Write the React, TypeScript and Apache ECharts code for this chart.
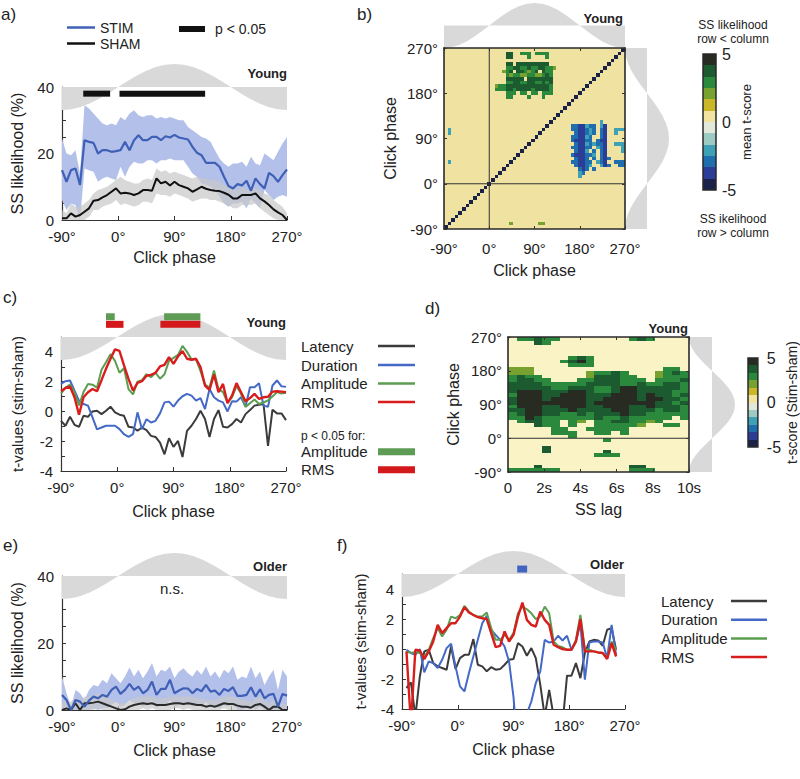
import React, { useEffect, useRef } from "react";
import * as echarts from "echarts";

const FONT = "'Liberation Sans', Arial, Helvetica, sans-serif";
const INK = "#222222";
const AXIS_COLOR = "#333333";
const FRAME_COLOR = "#2a2a2a";
const CUE_GREY = "#d9d9d9";
const BLUE = "#3f60b6";
const BLUE_BAND = "#b3c1ea";
const BLACK = "#111111";
const GREY_BAND = "#c8c8c8";
const LAT = "#3b3b3b";
const DUR = "#4469c6";
const AMP = "#5b9e50";
const RMS = "#d91c1c";

// phase bins (x positions of the curves)
const phaseBins: number[] = Array.from({ length: 51 }, (_, i) => -90 + 7.2 * i);
const phaseBinsOlderT: number[] = phaseBins.slice(1, 49);

// stimulation phase cue (grey wave)
const cueDegrees = [-90, -75, -60, -45, -30, -15, 0, 15, 30, 45, 60, 75, 90, 105, 120, 135, 150, 165, 180, 195, 210, 225, 240, 255, 270];
const cueShape = [-1, -0.97, -0.87, -0.71, -0.5, -0.26, 0, 0.26, 0.5, 0.71, 0.87, 0.97, 1, 0.97, 0.87, 0.71, 0.5, 0.26, 0, -0.26, -0.5, -0.71, -0.87, -0.97, -1];

// ---- panel a (young, SS likelihood %) ----
const youngStim = [15, 11.5, 15, 15.5, 10.5, 24, 23.5, 23.2, 20, 21, 21, 20.5, 20.7, 21, 23.5, 21, 24, 25.5, 24, 24, 25, 25, 24, 25.2, 24.8, 25.6, 24.8, 24.5, 24.2, 22, 20.2, 19.5, 17.2, 17.2, 17.2, 16, 13, 10.2, 9.5, 10.8, 10.4, 11.8, 8.8, 12.5, 10.8, 9.5, 14.2, 13.2, 11.5, 13.5, 15.2];
const youngStimHi = [24.5, 20, 19.5, 21, 14, 34.5, 33.5, 32, 30.5, 29, 28.5, 29, 28.5, 31, 30, 32, 33, 31.5, 31, 31.5, 31.5, 30.5, 31, 30.5, 31, 30.5, 30, 30, 28, 27, 26, 25, 24.5, 23.5, 21, 18.5, 17, 16, 17, 17, 17.5, 16, 19, 17, 16.5, 20, 19, 18, 20.5, 23, 25];
const youngStimLo = [6, 3, 5, 4.5, 0, 15.5, 15, 14.5, 11.5, 12.5, 13, 12.5, 12, 16, 13, 16, 17.5, 17, 17, 18, 18, 17, 18, 18, 18.5, 18, 18, 18, 16, 14, 13, 11, 10.5, 10, 9, 7, 5, 4, 5, 5, 5.5, 3.5, 6.5, 5, 3.5, 9, 7.5, 6, 7, 7.5, 7];
const youngSham = [0.5, 0.5, 2, 1, 1.5, 2.5, 3.5, 5.8, 6, 6.8, 7.5, 8.5, 9.5, 8, 8.2, 8, 7.5, 8, 9, 9, 8.8, 12.5, 11, 11.5, 10.4, 11.5, 10.5, 10, 9.5, 8.5, 9.2, 10, 9.4, 9, 8.8, 8.7, 8.2, 7.6, 6.5, 6.5, 7.5, 7.5, 7.5, 8, 6.5, 5.6, 4.5, 3.2, 2.3, 1.5, 0];
const youngShamHi = [3, 2, 5, 4, 4, 5, 6, 8, 9, 9.5, 10, 11, 12, 13, 12, 11.5, 11, 11, 12, 12.5, 12, 15.5, 14.5, 15, 14, 14.5, 14, 13.5, 13, 12.5, 13, 12.5, 12.5, 12, 12, 11.5, 10.5, 10, 9.5, 9, 10, 9, 10, 9.5, 9, 8, 7.5, 6, 5, 4, 2];
const youngShamLo = [0, 0, 0, 0, 0, 0, 1, 3, 3, 4, 4.5, 5, 6, 4.5, 5, 4.5, 4, 4.5, 5.5, 5.5, 5, 8, 7.5, 7.5, 7, 8, 7.5, 7, 6.5, 5.5, 6, 6.5, 6.5, 6, 6, 5.5, 5, 4.5, 3.5, 3.5, 4.5, 4.5, 4.5, 5, 3.5, 2.5, 1.5, 0.5, 0, 0, 0];
const youngSigRanges = [[-56, -13], [2, 139]];

// ---- panel c (young, t-values stim-sham) ----
const youngLatency = [-0.63, -0.96, -0.36, -0.9, -1.03, -0.29, -0.36, 0, 0.05, -0.18, 0.05, 0.32, -0.06, -0.22, -0.29, -1.03, -1.08, -1.3, -1.08, -1.26, -1.64, -1.71, -2.09, -2.88, -1.8, -2.38, -1.98, -3.06, -1.3, -0.96, -0.51, 0.05, -0.51, -1.71, -0.51, 0.09, -1.03, -1.08, -0.85, -0.51, -0.74, -0.18, 0.09, 0.39, 0.45, 0.5, -2.32, 0.12, -0.13, -0.13, -0.58];
const youngDuration = [1.85, 2.03, 2.08, 1.4, 0.72, 0.5, 0.39, -0.4, -1.2, -1.08, -0.96, -0.96, -0.96, -1.19, -1.53, -1.7, -1.53, -0.06, -1.19, -0.52, -0.74, -0.63, -0.13, 0.61, 0.66, 0.32, 0.73, 1.02, 1.18, 1.06, 0.73, 0.9, 0.16, 1.51, 0.95, 0.73, 0.61, 0, 0.68, 0.66, 0.95, 0.32, 1.62, 1.62, 1.9, 0.39, 0.32, 1.74, 2.08, 1.69, 1.65];
const youngAmplitude = [1.2, 1.6, 1.8, 1.3, 0.4, 1.3, 1.85, 1.8, 1.6, 2.8, 3.3, 3.85, 3.4, 2.6, 2.9, 1.5, 1.15, 2.0, 2.1, 2.5, 2.3, 2.6, 2.2, 2.5, 3.4, 3.6, 3.8, 4.4, 4.0, 3.5, 3.5, 2.7, 1.8, 1.6, 2.75, 1.5, 1.3, 0.6, 0.95, 1.7, 1.2, 0.3, 0.55, 0.8, 0.5, 0.6, 0.75, 1.0, 1.3, 1.2, 1.25];
const youngRms = [1.36, 1.58, 1.67, 0.95, -0.22, 0.95, 1.29, 1.51, 1.36, 2.1, 2.86, 3.54, 4.17, 4.06, 3.09, 2.19, 1.4, 1.92, 2.03, 2.4, 2.46, 2.6, 3.02, 3.13, 3.65, 3.2, 3.7, 4.06, 3.54, 3.47, 3.54, 2.98, 1.74, 1.45, 2.48, 1.29, 1.85, 0.55, 1.06, 1.9, 1.29, 0.68, 0.9, 1.18, 0.84, 0.95, 0.99, 1.33, 1.36, 1.33, 1.29];
const youngAmpSig = [[-18, -4], [75, 133]];
const youngRmsSig = [[-18, 10], [69, 133]];

// ---- panel e (older, SS likelihood %) ----
const olderStim = [4.5, 3, 0, 3, 2.5, 1, 2.8, 4, 3.5, 4.5, 4, 6, 7, 4.8, 6, 7.8, 6, 7, 5, 6, 8.5, 4.5, 6.3, 6.3, 9, 5, 5.8, 6.5, 6.4, 5, 6.3, 5.6, 7.5, 5.5, 5.8, 4.5, 6.3, 5.7, 6.8, 4.2, 4.2, 4.5, 6.8, 4, 6.2, 3.5, 4.5, 4.8, 1, 4.8, 4.3];
const olderStimHi = [10, 5, 1, 6, 5, 3, 6, 7.5, 7, 9, 8, 11, 9.5, 8, 10, 12.7, 10, 12, 9.5, 11.5, 14, 10, 12, 11.5, 13, 9.5, 11.5, 12.5, 11, 10, 12, 10.5, 13, 10, 11.5, 9.5, 12, 11, 13, 9, 10, 9.5, 13, 9.5, 11.5, 7.5, 10, 12, 6, 12, 10];
const olderStimLo = [0, 1, 0, 0, 0, 0, 0, 0.5, 0, 0.5, 0.5, 1.5, 2.5, 1, 1.5, 3, 2, 2, 1, 1.5, 3, 0.5, 1.5, 1.5, 3, 1, 1.5, 2, 2, 1, 1.5, 1, 2.5, 1, 1, 0.5, 1.5, 1, 2, 0, 0, 0.5, 1.5, 0, 1, 0, 0, 0, 0, 0, 0];
const olderSham = [0, 0.5, 0, 2, 0, 2, 2, 2.2, 2.5, 2, 1.5, 1, 0.5, 0, 0.2, 1, 1.5, 1.8, 2, 1.8, 2, 1.5, 1.5, 1.5, 1.8, 2, 2, 1.8, 2, 1.8, 1.5, 1.5, 1, 1.3, 1, 1.5, 2, 1.8, 1.8, 1.3, 1, 1, 0.7, 1.5, 1.8, 1, 0, 1, 1, 0, 0];
const olderShamHi = [2, 3, 2.5, 4, 2.5, 4, 4, 4.5, 5, 4.5, 4, 3, 2.5, 2, 2, 3, 3.5, 4, 4, 4, 4, 3.5, 3.5, 3.5, 4, 4, 4, 4, 4, 4, 3.5, 3.5, 3, 3, 3, 3.5, 4, 4, 4, 3.5, 3, 3, 2.5, 3.5, 4, 3, 2, 3, 3, 2, 1.5];
const olderShamLo = [0, 0, 0, 0, 0, 0, 0, 0, 0.5, 0, 0, 0, 0, 0, 0, 0, 0, 0, 0.5, 0, 0.5, 0, 0, 0, 0, 0.5, 0.5, 0, 0.5, 0, 0, 0, 0, 0, 0, 0, 0.5, 0, 0, 0, 0, 0, 0, 0, 0, 0, 0, 0, 0, 0, 0];

// ---- panel f (older, t-values stim-sham) ----
const olderLatency = [-2.6, -2.23, -4.5, -1.83, -0.16, -0.05, -0.94, -1.16, -1.27, -1.38, 0.17, -1.34, -0.61, -0.39, -0.39, 0.66, -1.05, -1.16, -1.49, -1.21, -1.38, -1.34, -1.05, -0.72, -0.67, 0.39, 0.17, -0.45, 0.06, -0.61, -2.38, -4.5, -2.72, -4.5, -5, -5, -1.78, -1.78, -0.94, -1.94, -0.27, 0.5, 0.61, 0.57, 0.21, 1.28, 1.39, -0.05];
const olderDuration = [-0.05, -0.27, -0.39, -0.01, -1.56, -0.83, -0.94, -1.27, -0.72, 0.06, 0.35, -1.16, -2.49, -2.83, -1.61, -0.5, 0.61, 1.72, 2.21, 1.28, 0.94, 0.61, 0.17, -0.83, -3.2, -7, -7, -4.3, -3.5, -2.27, -1.5, 0.61, 0.43, 0.5, 0.88, 0.57, 0.88, -0.05, 0.5, 1.72, -2.05, 0.43, 0.5, 0.5, 0.43, -0.61, 1.61, -0.39];
const olderAmplitude = [-0.2, -0.25, -0.22, -0.27, -0.54, -0.05, 0.72, 1.39, 0.83, 1.28, 2.16, 2.05, 2.27, 2.87, 2.5, 2.27, 2.16, 2.16, 2.43, 1.39, 0.61, 0.61, 0.94, 0.61, 1.06, 2.38, 2.83, 2.65, 2.38, 1.99, 2.16, 2.83, 2.38, 0.5, 0.21, 0.12, -0.05, -0.05, 0.61, 2.27, -0.05, -0.05, -0.16, -0.23, -0.27, -0.6, 0.5, -0.05];
const olderRms = [-0.16, -5, -0.05, -0.1, -0.67, -0.16, 0.5, 1.61, 1.06, 1.39, 1.72, 1.72, 2.16, 2.78, 2.43, 2.27, 2.12, 2.05, 1.99, 1.06, 0.12, 0.21, 1.17, 0.5, 0.94, 2.16, 3.09, 1.94, 1.61, 1.5, 2.5, 1.94, 1.61, 0.28, 0.12, -0.01, -0.05, -0.05, 0.5, 1.99, -0.16, -0.16, -0.16, -0.23, -0.27, -0.67, 0.39, -0.5];
const olderDurSig = [[96, 112]];

// ---- heatmaps (mean t-scores, coded per cell) ----
const tPalette = ["#1b2249", "#2b3d96", "#1f6fae", "#3fa1b5", "#9dcbc3", "#e2e8da", "#f2e3a0", "#cab629", "#77a22f", "#2b893d", "#1c5b30", "#272b22"];
const tEdges = [-5, -4.17, -3.33, -2.5, -1.67, -0.83, 0, 0.83, 1.67, 2.5, 3.33, 4.17, 5];
const tCode: Record<string, number> = { K: 4.6, D: 3.8, G: 2.9, O: 2.1, Y: 1.2, t: -1.2, c: -2.1, b: -2.9, n: -3.8, N: -4.6 };

// panel b: 50 x 50 phase bins (row = click phase, col = click phase)
const bGreenTopRow = 48;
const bGreenLeftCol = 13;
const bGreenRows = [
  "....DD..GGG.GGGG...",
  "....DD....G....G...",
  "...................",
  "....DD.DDDDDDDDD...",
  "....GGDDGGDGGDDGGO.",
  "...OGD.DDGOGD.DGG..",
  "....GOGGOOGGOOGDG..",
  "....DDDDD.DDDDDDD..",
  "....GGDDGGDDGGDGD..",
  ".OGGDDDDDDDDDDDDG..",
  ".GGGDDGDDDDGDDDDG..",
  "....GGG.GG.GG.GGG..",
  "....GG....G...G....",
];
const bBlueTopRow = 29;
const bBlueLeftCol = 34;
const bBlueRows = [
  ".........c......",
  ".bbnncbb.cn.....",
  ".bbnnbcb.bn..ccc",
  "..bnnbcb.bn..c..",
  ".bbnncb..bn.....",
  ".bnnnbb.bnn.....",
  "..bnncbcbbn..ccc",
  ".bbnnbb.cbn....c",
  "..bnnc.b.bn....c",
  ".bnnnbbc.bn.....",
  "..bnnb.b.bnb....",
  ".bbnnbb.cbn..bbb",
  "..bnnbc..cnb..bb",
  "...bnb.b........",
  "...cb...........",
  "...c............",
];
const bSingles: [number, number, string][] = [[1, 26, "c"], [1, 27, "c"], [1, 18, "c"], [18, 1, "O"], [26, 1, "O"], [27, 1, "O"]];
const bDiagonalCode = "N";

// panel d: 21 lag bins (0-10 s) x 36 phase bins, top row = 260-270 deg
const dRows = [
  ".GGDGG........GDG....",
  "...DG................",
  ".....................",
  ".....................",
  ".....................",
  ".......GDG...........",
  "......GDKG...........",
  ".......GGG...........",
  "OOO...............GG.",
  "OOO......OGGDG...OGDG",
  "GDGG.....ODDDGG..OGGG",
  "GDDGG...GGDDDGGG.GGGD",
  "DDDDGGGGGDDDDGGDGGDDG",
  "DDDDDGGDDDGGDKKDDDDDG",
  "DKKKDDDKKDGGDKKDDDDGG",
  "GKKKDDKKKDDDKKKDKDDGD",
  "DKKKDKKKKDDKKKKDKKDDG",
  "DKKKKKKKKDKKKKKKKDDGD",
  "GKKKDDKKKDDKKKDDKDDDG",
  "DDKKDDDKDDDDKKDDDGDDG",
  "GDKKDDGGDGDDDKDDGGGGG",
  "GGKDGGGGGGDGGDGGGGG.G",
  ".GDDGG.GO.GGDDGGOG...",
  "...DGG.G..GGGGGO..GG.",
  ".....GG..GGGGG.......",
  ".....GGG..GG.G.......",
  ".......G.............",
  "...........G.........",
  ".....................",
  "....D................",
  "....D......D.........",
  "..........GGG........",
  ".....................",
  ".....................",
  "...D..........DD.....",
  "GGGGGG........GGG....",
];

function patchCells(rows: string[], topRow: number, leftCol: number): number[][] {
  const out: number[][] = [];
  rows.forEach((line, k) => {
    for (let j = 0; j < line.length; j++) {
      const ch = line[j];
      if (ch !== ".") out.push([leftCol + j, topRow - k, tCode[ch]]);
    }
  });
  return out;
}

function cueRenderer(vertical: boolean) {
  return (params: any, api: any) => {
    if (params.dataIndexInside !== 0) return null;
    const last = cueDegrees.length - 1;
    const pts = cueDegrees.map((d, i) => api.coord(vertical ? [cueShape[i], d] : [d, cueShape[i]]));
    const back = vertical
      ? [api.coord([0, cueDegrees[last]]), api.coord([0, cueDegrees[0]])]
      : [api.coord([cueDegrees[last], 0]), api.coord([cueDegrees[0], 0])];
    return { type: "polygon", shape: { points: pts.concat(back) }, style: { fill: CUE_GREY } };
  };
}

function bandRenderer(xs: number[], lo: number[], hi: number[], color: string, opacity: number) {
  return (params: any, api: any) => {
    if (params.dataIndexInside !== 0) return null;
    const upper = xs.map((x, i) => api.coord([x, hi[i]]));
    const lower = xs.map((x, i) => api.coord([x, lo[i]])).reverse();
    return { type: "polygon", shape: { points: upper.concat(lower) }, style: { fill: color, opacity } };
  };
}

function heatRenderer(x0: number, xStep: number, y0: number, yStep: number) {
  return (params: any, api: any) => {
    const c = api.value(0);
    const r = api.value(1);
    const tl = api.coord([x0 + c * xStep, y0 + (r + 1) * yStep]);
    const br = api.coord([x0 + (c + 1) * xStep, y0 + r * yStep]);
    const x = Math.round(tl[0]);
    const y = Math.round(tl[1]);
    return {
      type: "rect",
      shape: { x, y, width: Math.round(br[0]) - x, height: Math.round(br[1]) - y },
      style: { fill: api.visual("color") },
    };
  };
}

function colorbarRenderer(params: any, api: any) {
  const lo = api.value(0);
  const hi = api.value(1);
  const tl = api.coord([0, hi]);
  const br = api.coord([1, lo]);
  const y = Math.round(tl[1]);
  const children: any[] = [
    { type: "rect", shape: { x: tl[0], y, width: br[0] - tl[0], height: Math.round(br[1]) - y }, style: { fill: api.visual("color") } },
  ];
  if (params.dataIndexInside === params.dataInsideLength - 1) {
    const a = api.coord([0, tEdges[tEdges.length - 1]]);
    const b = api.coord([1, tEdges[0]]);
    children.push({ type: "rect", shape: { x: a[0], y: a[1], width: b[0] - a[0], height: b[1] - a[1] }, style: { fill: "none", stroke: FRAME_COLOR, lineWidth: 1.5 } });
  }
  return { type: "group", children };
}

function buildOption() {
  const grid: any[] = [];
  const xAxis: any[] = [];
  const yAxis: any[] = [];
  const series: any[] = [];
  const addGrid = (left: number, top: number, width: number, height: number, extra: any = {}) => {
    grid.push({ left, top, width, height, containLabel: false, ...extra });
    return grid.length - 1;
  };
  const addX = (o: any) => { xAxis.push(o); return xAxis.length - 1; };
  const addY = (o: any) => { yAxis.push(o); return yAxis.length - 1; };
  const hidden = (gridIndex: number, min: number, max: number) => ({ type: "value", gridIndex, min, max, show: false });

  const axisLine = { show: true, onZero: false, lineStyle: { color: AXIS_COLOR, width: 1.2 } };
  const frameLine = { show: true, onZero: false, lineStyle: { color: FRAME_COLOR, width: 1.6 } };
  const tick = { show: true, inside: true, length: 4, lineStyle: { color: AXIS_COLOR, width: 1 } };
  const tickSmall = { show: true, inside: true, length: 3, lineStyle: { color: AXIS_COLOR, width: 1 } };
  const label15 = { fontSize: 15, color: INK, fontFamily: FONT };
  const nameStyle = { fontSize: 16, color: INK, fontFamily: FONT };
  const degFmt = (v: number) => `${v}\u00b0`;
  const noSplit = { show: false };

  const phaseX = (gridIndex: number, extra: any = {}) =>
    addX({
      type: "value", gridIndex, min: -90, max: 270, interval: 90, axisLine, axisTick: tick,
      axisLabel: { ...label15, formatter: degFmt, margin: 9 }, splitLine: noSplit,
      name: "Click phase", nameLocation: "middle", nameGap: 32, nameTextStyle: nameStyle, ...extra,
    });
  const likelihoodY = (gridIndex: number) =>
    addY({
      type: "value", gridIndex, min: 0, max: 40, interval: 20, axisLine, axisTick: tick,
      minorTick: { show: true, splitNumber: 4, length: 4, lineStyle: { color: AXIS_COLOR, width: 1 } },
      axisLabel: { ...label15, margin: 8 }, splitLine: noSplit, minorSplitLine: { show: false },
      name: "SS likelihood (%)", nameLocation: "middle", nameGap: 37, nameTextStyle: nameStyle,
    });
  const tValueY = (gridIndex: number, nameGap: number) =>
    addY({
      type: "value", gridIndex, min: -4, max: 5, interval: 1, axisLine, axisTick: tick,
      axisLabel: { ...label15, margin: 8, formatter: (v: number) => (v % 2 === 0 && v < 5 ? String(v) : "") },
      splitLine: noSplit,
      name: "t-values (stim-sham)", nameLocation: "middle", nameGap, nameTextStyle: { ...nameStyle, fontSize: 15 },
    });
  const addCue = (left: number, top: number, width: number, height: number, vertical: boolean) => {
    const g = addGrid(left, top, width, height);
    const xi = addX(vertical ? hidden(g, -1, 1) : hidden(g, -90, 270));
    const yi = addY(vertical ? hidden(g, -90, 270) : hidden(g, -1, 1));
    series.push({
      type: "custom", name: "cue", xAxisIndex: xi, yAxisIndex: yi, z: 1, silent: true, clip: false,
      renderItem: cueRenderer(vertical),
      data: cueDegrees.map((d, i) => (vertical ? [cueShape[i], d] : [d, cueShape[i]])),
    });
  };
  const line = (name: string, xi: number, yi: number, xs: number[], ys: number[], color: string, width: number) => ({
    type: "line", name, xAxisIndex: xi, yAxisIndex: yi, data: xs.map((x, i) => [x, ys[i]]),
    symbol: "none", showSymbol: false, color, itemStyle: { color }, lineStyle: { color, width }, z: 3, silent: true, clip: true,
  });
  const band = (name: string, xi: number, yi: number, xs: number[], lo: number[], hi: number[], color: string, opacity: number) => ({
    type: "custom", name, xAxisIndex: xi, yAxisIndex: yi, z: 2, silent: true, clip: true,
    renderItem: bandRenderer(xs, lo, hi, color, opacity), data: xs.map((x, i) => [x, lo[i], hi[i]]),
  });
  const sig = (name: string, xi: number, yi: number, ranges: number[][], level: number, h: number, color: string) => ({
    type: "custom", name, xAxisIndex: xi, yAxisIndex: yi, z: 4, silent: true, clip: false, itemStyle: { color },
    data: ranges,
    renderItem: (params: any, api: any) => {
      const a = api.coord([api.value(0), level]);
      const b = api.coord([api.value(1), level]);
      return { type: "rect", shape: { x: a[0], y: a[1] - h / 2, width: b[0] - a[0], height: h }, style: { fill: color } };
    },
  });

  // ---------- panel a ----------
  addCue(62, 64, 225, 46, false);
  const gA = addGrid(62, 87, 225, 133);
  const xA = phaseX(gA, { nameGap: 29 });
  const yA = likelihoodY(gA);
  series.push(band("stimBandYoung", xA, yA, phaseBins, youngStimLo, youngStimHi, BLUE_BAND, 1));
  series.push(band("shamBandYoung", xA, yA, phaseBins, youngShamLo, youngShamHi, GREY_BAND, 0.7));
  series.push(line("SHAM", xA, yA, phaseBins, youngSham, BLACK, 2));
  series.push(line("STIM", xA, yA, phaseBins, youngStim, BLUE, 2.2));
  series.push(sig("p < 0.05", xA, yA, youngSigRanges, 38, 6, BLACK));

  // ---------- panel b ----------
  addCue(444, 3, 181, 45, false);
  addCue(625, 48, 44, 181, true);
  const gB = addGrid(444, 48, 181, 181, { show: true, backgroundColor: "#f0e2a0", borderWidth: 0 });
  const xB = addX({
    type: "value", gridIndex: gB, min: -90, max: 270, interval: 90, axisLine: frameLine, axisTick: tickSmall,
    axisLabel: { ...label15, formatter: degFmt, margin: 12 }, splitLine: noSplit, z: 5,
    name: "Click phase", nameLocation: "middle", nameGap: 33, nameTextStyle: nameStyle,
  });
  addX({ type: "value", gridIndex: gB, position: "top", min: -90, max: 270, interval: 90, axisLine: frameLine, axisTick: tickSmall, axisLabel: { show: false }, splitLine: noSplit, z: 5 });
  const yB = addY({
    type: "value", gridIndex: gB, min: -90, max: 270, interval: 90, axisLine: frameLine, axisTick: tickSmall,
    axisLabel: { ...label15, formatter: degFmt, margin: 6 }, splitLine: noSplit, z: 5,
    name: "Click phase", nameLocation: "middle", nameGap: 46, nameTextStyle: nameStyle,
  });
  addY({ type: "value", gridIndex: gB, position: "right", min: -90, max: 270, interval: 90, axisLine: frameLine, axisTick: tickSmall, axisLabel: { show: false }, splitLine: noSplit, z: 5 });
  const bCells = [
    ...patchCells(bGreenRows, bGreenTopRow, bGreenLeftCol),
    ...patchCells(bBlueRows, bBlueTopRow, bBlueLeftCol),
    ...bSingles.map(([c, r, ch]) => [c, r, tCode[ch]]),
    ...Array.from({ length: 50 }, (_, i) => [i, i, tCode[bDiagonalCode]]),
  ];
  const heatBIndex = series.length;
  series.push({ type: "custom", name: "heatB", xAxisIndex: xB, yAxisIndex: yB, z: 2, silent: true, data: bCells, renderItem: heatRenderer(-90, 7.2, -90, 7.2) });
  series.push({ type: "line", name: "zeroBv", xAxisIndex: xB, yAxisIndex: yB, data: [[0, -90], [0, 270]], symbol: "none", lineStyle: { color: AXIS_COLOR, width: 1 }, z: 3, silent: true });
  series.push({ type: "line", name: "zeroBh", xAxisIndex: xB, yAxisIndex: yB, data: [[-90, 0], [270, 0]], symbol: "none", lineStyle: { color: AXIS_COLOR, width: 1 }, z: 3, silent: true });
  // colorbar b
  const gCbB = addGrid(703, 54, 13, 136);
  const xCbB = addX(hidden(gCbB, 0, 1));
  const yCbB = addY({
    type: "value", gridIndex: gCbB, position: "right", min: -5, max: 5, interval: 5,
    axisLine: { show: false }, axisTick: { show: false }, splitLine: noSplit,
    axisLabel: { fontSize: 16, color: INK, fontFamily: FONT, margin: 6 },
    name: "mean t-score", nameLocation: "middle", nameRotate: 90, nameGap: 24, nameTextStyle: { fontSize: 13, color: INK, fontFamily: FONT },
  });
  const cbData = tEdges.slice(0, -1).map((lo, i) => [lo, tEdges[i + 1], (lo + tEdges[i + 1]) / 2]);
  const cbBIndex = series.length;
  series.push({ type: "custom", name: "cbB", xAxisIndex: xCbB, yAxisIndex: yCbB, z: 2, silent: true, data: cbData, renderItem: colorbarRenderer });

  // ---------- panel c ----------
  addCue(61, 314, 225, 46, false);
  const gC = addGrid(61, 337, 225, 134);
  const xC = phaseX(gC);
  const yC = tValueY(gC, 36);
  series.push(line("Latency", xC, yC, phaseBins, youngLatency, LAT, 2));
  series.push(line("Duration", xC, yC, phaseBins, youngDuration, DUR, 2));
  series.push(line("Amplitude", xC, yC, phaseBins, youngAmplitude, AMP, 2));
  series.push(line("RMS", xC, yC, phaseBins, youngRms, RMS, 2.4));
  series.push(sig("Amplitude p<0.05", xC, yC, youngAmpSig, 6.36, 7, "#5e9b55"));
  series.push(sig("RMS p<0.05", xC, yC, youngRmsSig, 5.85, 7, "#d3191c"));

  // ---------- panel d ----------
  addCue(689, 337, 46, 135, true);
  const gD = addGrid(508, 337, 181, 135, { show: true, backgroundColor: "#faf3c6", borderWidth: 0 });
  const lagFmt = (v: number) => (v === 0 ? "0" : `${v}s`);
  const xD = addX({
    type: "value", gridIndex: gD, min: 0, max: 10, interval: 2, axisLine: frameLine, axisTick: tickSmall,
    axisLabel: { ...label15, formatter: lagFmt, margin: 8 }, splitLine: noSplit, z: 5,
    name: "SS lag", nameLocation: "middle", nameGap: 29, nameTextStyle: nameStyle,
  });
  addX({ type: "value", gridIndex: gD, position: "top", min: 0, max: 10, interval: 2, axisLine: frameLine, axisTick: tickSmall, axisLabel: { show: false }, splitLine: noSplit, z: 5 });
  const yD = addY({
    type: "value", gridIndex: gD, min: -90, max: 270, interval: 90, axisLine: frameLine, axisTick: tickSmall,
    axisLabel: { ...label15, formatter: degFmt, margin: 6 }, splitLine: noSplit, z: 5,
    name: "Click phase", nameLocation: "middle", nameGap: 47, nameTextStyle: nameStyle,
  });
  addY({ type: "value", gridIndex: gD, position: "right", min: -90, max: 270, interval: 90, axisLine: frameLine, axisTick: tickSmall, axisLabel: { show: false }, splitLine: noSplit, z: 5 });
  const heatDIndex = series.length;
  series.push({ type: "custom", name: "heatD", xAxisIndex: xD, yAxisIndex: yD, z: 2, silent: true, data: patchCells(dRows, dRows.length - 1, 0), renderItem: heatRenderer(0, 10 / 21, -90, 10) });
  series.push({ type: "line", name: "zeroDh", xAxisIndex: xD, yAxisIndex: yD, data: [[0, 0], [10, 0]], symbol: "none", lineStyle: { color: AXIS_COLOR, width: 1 }, z: 3, silent: true });
  const gCbD = addGrid(748, 358, 13, 89);
  const xCbD = addX(hidden(gCbD, 0, 1));
  const yCbD = addY({
    type: "value", gridIndex: gCbD, position: "right", min: -5, max: 5, interval: 5,
    axisLine: { show: false }, axisTick: { show: false }, splitLine: noSplit,
    axisLabel: { fontSize: 16, color: INK, fontFamily: FONT, margin: 9 },
    name: "t-score (Stim-sham)", nameLocation: "middle", nameRotate: 90, nameGap: 26, nameTextStyle: { fontSize: 14, color: INK, fontFamily: FONT },
  });
  const cbDIndex = series.length;
  series.push({ type: "custom", name: "cbD", xAxisIndex: xCbD, yAxisIndex: yCbD, z: 2, silent: true, data: cbData, renderItem: colorbarRenderer });

  // ---------- panel e ----------
  addCue(62, 553, 225, 46, false);
  const gE = addGrid(62, 576, 225, 134);
  const xE = phaseX(gE);
  const yE = likelihoodY(gE);
  series.push(band("stimBandOlder", xE, yE, phaseBins, olderStimLo, olderStimHi, BLUE_BAND, 1));
  series.push(band("shamBandOlder", xE, yE, phaseBins, olderShamLo, olderShamHi, GREY_BAND, 0.7));
  series.push(line("SHAM", xE, yE, phaseBins, olderSham, "#2a2a2a", 2));
  series.push(line("STIM", xE, yE, phaseBins, olderStim, BLUE, 2.2));

  // ---------- panel f ----------
  addCue(402, 551, 223, 46, false);
  const gF = addGrid(402, 574, 223, 135);
  const xF = phaseX(gF);
  const yF = tValueY(gF, 34);
  series.push(line("Latency", xF, yF, phaseBinsOlderT, olderLatency, LAT, 2));
  series.push(line("Duration", xF, yF, phaseBinsOlderT, olderDuration, DUR, 2));
  series.push(line("Amplitude", xF, yF, phaseBinsOlderT, olderAmplitude, AMP, 2));
  series.push(line("RMS", xF, yF, phaseBinsOlderT, olderRms, RMS, 2.4));
  series.push(sig("Duration p<0.05", xF, yF, olderDurSig, 5.33, 7, "#4064c0"));

  const txt = (text: string, x: number, y: number, size: number, align = "left", bold = false) => ({
    type: "text", x, y, silent: true, z: 10,
    style: { text, fill: INK, font: `${bold ? "bold " : ""}${size}px ${FONT}`, align, verticalAlign: "middle" },
  });
  // one legend per item so the vertical positions are exact
  const rightIconLegend = (name: string, label: string, left: number, centerY: number, textWidth: number, iconW: number, iconH: number) => ({
    left, top: centerY - 9, padding: 0, align: "right", itemWidth: iconW, itemHeight: iconH, selectedMode: false,
    data: [{ name, icon: "rect" }],
    formatter: () => `{t|${label}}`,
    textStyle: { lineHeight: 18, rich: { t: { width: textWidth, align: "left", fontSize: 15, lineHeight: 18, color: INK, fontFamily: FONT } } },
  });
  const measures = ["Latency", "Duration", "Amplitude", "RMS"];
  const cCenters = [346, 365, 383.5, 402];
  const fCenters = [601, 619.7, 638.4, 657];

  return {
    animation: false,
    backgroundColor: "#ffffff",
    textStyle: { fontFamily: FONT, color: INK },
    grid, xAxis, yAxis, series,
    visualMap: [{
      type: "piecewise", show: false, dimension: 2,
      seriesIndex: [heatBIndex, heatDIndex, cbBIndex, cbDIndex],
      pieces: tPalette.map((color, i) => ({ gte: tEdges[i], lt: tEdges[i + 1], color })),
    }],
    legend: [
      {
        left: 67, top: 20, padding: 0, itemWidth: 28, itemHeight: 2.5, selectedMode: false,
        data: [{ name: "STIM", icon: "rect" }],
        textStyle: { fontSize: 14, lineHeight: 15, color: INK, fontFamily: FONT },
      },
      {
        left: 67, top: 36, padding: 0, itemWidth: 28, itemHeight: 2.5, selectedMode: false,
        data: [{ name: "SHAM", icon: "rect" }],
        textStyle: { fontSize: 14, lineHeight: 15, color: INK, fontFamily: FONT },
      },
      {
        left: 179, top: 21, padding: 0, itemWidth: 26, itemHeight: 6, selectedMode: false,
        data: [{ name: "p < 0.05", icon: "rect" }],
        textStyle: { fontSize: 14, lineHeight: 16, color: INK, fontFamily: FONT, padding: [0, 0, 0, 5] },
      },
      ...measures.map((n, i) => rightIconLegend(n, n, 301, cCenters[i], 72, 37, 2.5)),
      rightIconLegend("Amplitude p<0.05", "Amplitude", 301, 451.7, 72, 37, 7),
      rightIconLegend("RMS p<0.05", "RMS", 301, 469.7, 72, 37, 7),
      ...measures.map((n, i) => rightIconLegend(n, n, 661, fCenters[i], 65, 36, 2.5)),
    ],
    graphic: [
      txt("a)", 1, 14, 17), txt("b)", 357, 14, 17), txt("c)", 3, 297, 17),
      txt("d)", 425, 308, 17), txt("e)", 3, 545, 17), txt("f)", 337, 545, 17),
      txt("Young", 287, 73, 13, "right", true), txt("Young", 623, 18, 13, "right", true),
      txt("Young", 286, 322, 13, "right", true), txt("Young", 688, 328, 13, "right", true),
      txt("Older", 287, 566, 13, "right", true), txt("Older", 624, 564, 13, "right", true),
      txt("n.s.", 172, 588, 15, "center"),
      txt("p < 0.05 for:", 301, 436, 12),
      txt("SS likelihood", 733, 25, 12, "center"), txt("row < column", 733, 39, 12, "center"),
      txt("SS ikelihood", 733, 219, 12, "center"), txt("row > column", 733, 233, 12, "center"),
    ],
  };
}

export default function App() {
  const ref = useRef<HTMLDivElement>(null);
  useEffect(() => {
    if (!ref.current) return;
    const chart = echarts.init(ref.current, undefined, { renderer: "svg", width: 800, height: 779 });
    chart.setOption(buildOption() as any);
    return () => chart.dispose();
  }, []);
  return <div ref={ref} style={{ position: "absolute", left: 0, top: 0, width: 800, height: 779, background: "#fff" }} />;
}
